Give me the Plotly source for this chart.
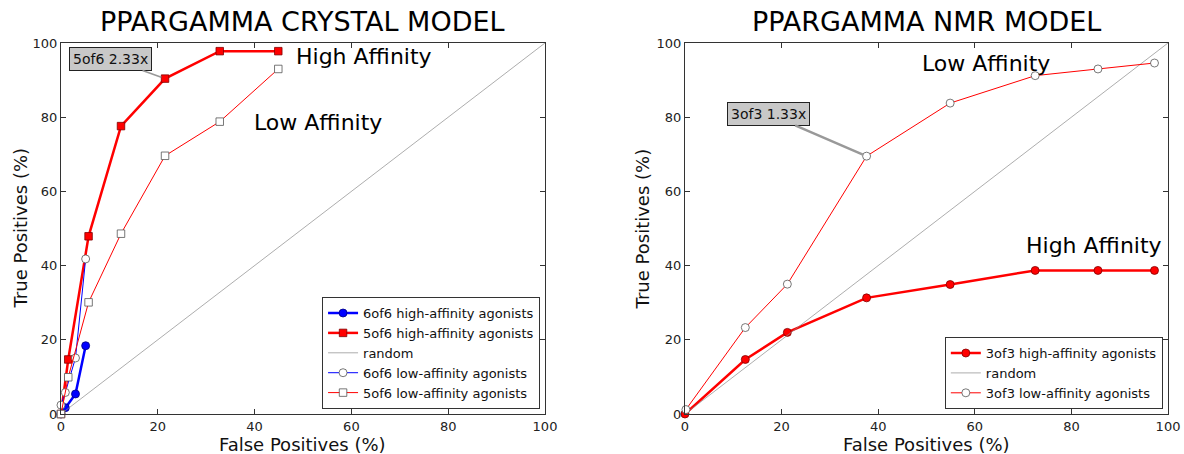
import plotly.graph_objects as go

# ---------------- data ----------------
# Crystal model (left)
c6_high_x = [0, 0.9, 3.0, 5.1]
c6_high_y = [0, 1.7, 5.4, 18.4]
c5_high_x = [0, 1.5, 5.7, 12.4, 21.5, 32.8, 44.9]
c5_high_y = [0, 14.7, 47.9, 77.6, 90.4, 97.8, 97.8]
c6_low_x = [0, 0.9, 3.0, 5.1]
c6_low_y = [2.4, 5.8, 15.1, 41.8]
c5_low_x = [0, 1.5, 5.7, 12.4, 21.5, 32.8, 44.9]
c5_low_y = [0, 9.9, 30.1, 48.6, 69.6, 78.8, 93.0]

# NMR model (right)
n3_high_x = [0, 12.5, 21.2, 37.6, 54.9, 72.5, 85.5, 97.2]
n3_high_y = [0, 14.7, 22.0, 31.3, 34.9, 38.7, 38.7, 38.7]
n3_low_x = [0.2, 12.5, 21.2, 37.6, 54.9, 72.5, 85.5, 97.2]
n3_low_y = [1.2, 23.3, 35.0, 69.5, 83.8, 91.2, 93.0, 94.6]

random_x = [0, 100]
random_y = [0, 100]

ticks = [0, 20, 40, 60, 80, 100]
titles = ["PPARGAMMA CRYSTAL MODEL", "PPARGAMMA NMR MODEL"]
x_title = "False Positives (%)"
y_title = "True Positives (%)"

FONT = "DejaVu Sans"
RED = "#ff0000"
BLUE = "#0000ff"

fig = go.Figure()

def add(x, y, name, color, width, symbol, fill, size, xa, ya, legend, edge):
    fig.add_trace(go.Scatter(
        x=x, y=y, name=name, mode="lines+markers",
        line=dict(color=color, width=width),
        marker=dict(symbol=symbol, size=size, color=fill,
                    line=dict(color=edge, width=0.8)),
        xaxis=xa, yaxis=ya, legend=legend, cliponaxis=False))

def add_random(xa, ya, legend):
    fig.add_trace(go.Scatter(
        x=random_x, y=random_y, name="random", mode="lines",
        line=dict(color="#8a8a8a", width=0.7),
        xaxis=xa, yaxis=ya, legend=legend))

# left
add(c6_high_x, c6_high_y, "6of6 high-affinity agonists", BLUE, 2.5, "circle", BLUE, 8, "x", "y", "legend", "#000080")
add(c5_high_x, c5_high_y, "5of6 high-affinity agonists", RED, 2.5, "square", RED, 7.5, "x", "y", "legend", "#800000")
add_random("x", "y", "legend")
add(c6_low_x, c6_low_y, "6of6 low-affinity agonists", BLUE, 1, "circle", "white", 8, "x", "y", "legend", "#555555")
add(c5_low_x, c5_low_y, "5of6 low-affinity agonists", RED, 1, "square", "white", 7.5, "x", "y", "legend", "#555555")

# right
add(n3_high_x, n3_high_y, "3of3 high-affinity agonists", RED, 2.5, "circle", RED, 8, "x2", "y2", "legend2", "#800000")
add_random("x2", "y2", "legend2")
add(n3_low_x, n3_low_y, "3of3 low-affinity agonists", RED, 1, "circle", "white", 8, "x2", "y2", "legend2", "#555555")

axis_common = dict(
    range=[0, 100], tickvals=ticks, ticks="inside", ticklen=5, tickwidth=1,
    tickcolor="#333333", showline=True, linecolor="#333333", linewidth=1,
    mirror="allticks", showgrid=False, zeroline=False, automargin=False,
    tickfont=dict(family=FONT, size=13, color="#222222"),
)

fig.update_layout(
    width=1184, height=454,
    margin=dict(l=0, r=0, t=0, b=0, autoexpand=False),
    paper_bgcolor="white", plot_bgcolor="white",
    font=dict(family=FONT, color="#111111"),
    showlegend=True,
    xaxis=dict(domain=[0.0515, 0.4603], anchor="y", **axis_common),
    yaxis=dict(domain=[0.0881, 0.9053], anchor="x", **axis_common),
    xaxis2=dict(domain=[0.5785, 0.9865], anchor="y2", **axis_common),
    yaxis2=dict(domain=[0.0881, 0.9053], anchor="x2", **axis_common),
    legend=dict(x=0.272, y=0.099, xanchor="left", yanchor="bottom",
                bgcolor="white", bordercolor="#333333", borderwidth=1,
                font=dict(family=FONT, size=13, color="#111111"),
                tracegroupgap=0, itemwidth=30),
    legend2=dict(x=0.798, y=0.099, xanchor="left", yanchor="bottom",
                 bgcolor="white", bordercolor="#333333", borderwidth=1,
                 font=dict(family=FONT, size=13, color="#111111"),
                 tracegroupgap=0, itemwidth=30),
)

# titles
fig.add_annotation(text=titles[0], xref="paper", yref="paper", x=0.2559, y=0.952,
                   xanchor="center", yanchor="middle", showarrow=False,
                   font=dict(family=FONT, size=27, color="#000000"))
fig.add_annotation(text=titles[1], xref="paper", yref="paper", x=0.7825, y=0.952,
                   xanchor="center", yanchor="middle", showarrow=False,
                   font=dict(family=FONT, size=27, color="#000000"))

# axis titles
for xc in (0.2559, 0.7825):
    fig.add_annotation(text=x_title, xref="paper", yref="paper", x=xc, y=0.021,
                       xanchor="center", yanchor="middle", showarrow=False,
                       font=dict(family=FONT, size=18, color="#111111"))
for xc in (0.0169, 0.5430):
    fig.add_annotation(text=y_title, xref="paper", yref="paper", x=xc, y=0.4967,
                       xanchor="center", yanchor="middle", showarrow=False, textangle=-90,
                       font=dict(family=FONT, size=18, color="#111111"))

# labels
def label(text, x, y, xr, yr):
    fig.add_annotation(text=text, x=x, y=y, xref=xr, yref=yr, xanchor="left",
                       yanchor="middle", showarrow=False,
                       font=dict(family=FONT, size=22, color="#000000"))

label("High Affinity", 48.1, 96.3, "x", "y")
label("Low Affinity", 39.5, 78.7, "x", "y")
label("Low Affinity", 48.7, 94.6, "x2", "y2")
label("High Affinity", 70.1, 45.3, "x2", "y2")

# callouts
fig.add_annotation(text="5of6 2.33x", x=c5_high_x[4], y=c5_high_y[4], xref="x", yref="y",
                   ax=10.3, ay=95.7, axref="x", ayref="y", showarrow=True,
                   arrowhead=0, arrowwidth=1.6, arrowcolor="#999999", standoff=4,
                   bgcolor="#c8c8c8", bordercolor="#222222", borderwidth=1, borderpad=3,
                   font=dict(family=FONT, size=14, color="#111111"))
fig.add_annotation(text="3of3 1.33x", x=n3_low_x[3], y=n3_low_y[3], xref="x2", yref="y2",
                   ax=17.3, ay=80.9, axref="x2", ayref="y2", showarrow=True,
                   arrowhead=0, arrowwidth=2.5, arrowcolor="#999999", standoff=4,
                   bgcolor="#c8c8c8", bordercolor="#222222", borderwidth=1, borderpad=3,
                   font=dict(family=FONT, size=14, color="#111111"))

fig.write_html("out.html")
